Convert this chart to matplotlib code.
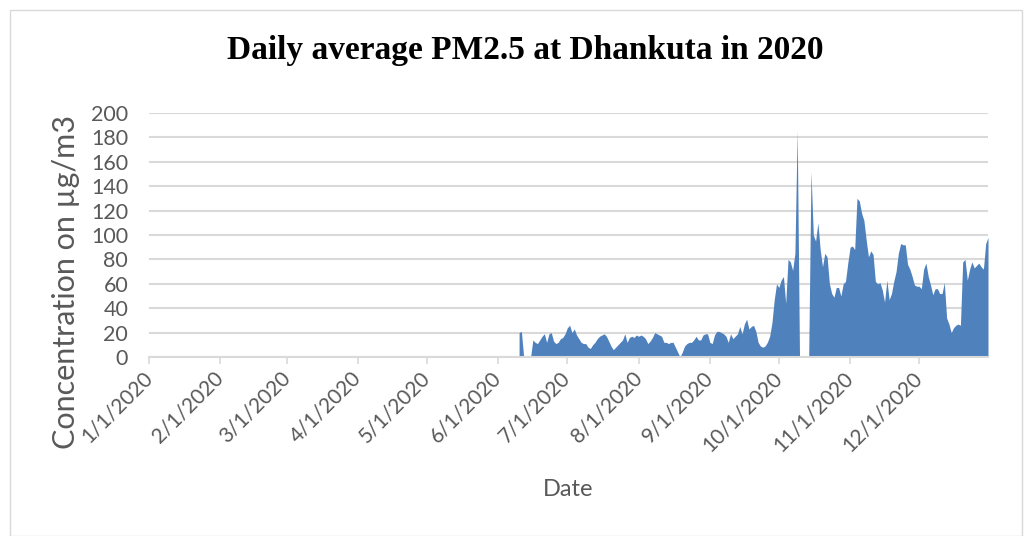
import datetime as dt
import matplotlib
matplotlib.use("Agg")
import matplotlib.pyplot as plt
from matplotlib.patches import Rectangle

# daily PM2.5 (ug/m3), None = no reading; first reading on 6/10/2020
start_date = dt.date(2020, 6, 10)
june = [20, 21, None, None, None, None, 14, 12, 11, 14, 17, 19, 12, 19, 20,
        13, 11, 12, 15, 16, 19]
july = [24, 26, 20, 23, 18, 15, 12, 11, 11, 8, 7, 10, 12, 15, 17, 18, 19, 17,
        13, 9, 6, 8, 10, 12, 14, 19, 12, 16, 17, 16, 18]
august = [17, 18, 17, 15, 11, 13, 16, 20, 19, 18, 17, 12, 12, 11, 12, 12, 8,
          4, None, 4, 9, 11, 12, 12, 14, 17, 14, 14, 18, 19, 19]
september = [12, 11, 18, 21, 21, 20, 19, 17, 12, 19, 15, 17, 19, 25, 19, 27,
             31, 23, 25, 26, 21, 12, 9, 8, 9, 12, 17, 28, 47, 60]
october = [57, 63, 66, 44, 80, 78, 71, 85, 186, None, None, None, None, None,
           152, 100, 95, 110, 88, 74, 85, 82, 60, 52, 49, 57, 57, 50, 60, 62, 77]
november = [90, 91, 88, 130, 128, 118, 112, 96, 82, 87, 84, 62, 60, 61, 55,
            45, 63, 47, 52, 62, 70, 85, 93, 92, 92, 76, 72, 66, 59, 58]
december = [58, 56, 72, 77, 66, 59, 51, 56, 56, 52, 52, 61, 32, 27, 20, 24,
            26, 27, 26, 78, 80, 63, 72, 78, 73, 75, 77, 74, 72, 93, 98]

title = "Daily average PM2.5 at Dhankuta in 2020"
y_label = "Concentration on µg/m3"
x_label = "Date"
y_ticks = [0, 20, 40, 60, 80, 100, 120, 140, 160, 180, 200]

blue = "#4f81bd"
grey_text = "#595959"
grid_col = "#d9d9d9"

values = june + july + august + september + october + november + december
dates = [start_date + dt.timedelta(days=i) for i in range(len(values))]
# Excel area chart draws blank cells as zero
plot_vals = [0 if v is None else v for v in values]

fig = plt.figure(figsize=(10.29, 5.36), dpi=100)
fig.patches.append(Rectangle((10 / 1029, 0), 1012 / 1029, 526 / 536,
                             transform=fig.transFigure, fill=False,
                             edgecolor=grid_col, linewidth=1))

ax = fig.add_axes([149 / 1029, 1 - 357 / 536, (988 - 149) / 1029, (357 - 113) / 536])
ax.fill_between(dates, plot_vals, 0, color=blue, linewidth=0)

ax.set_xlim(dt.date(2020, 1, 1), dt.date(2020, 12, 31))
ax.set_ylim(0, 200)
ax.set_yticks(y_ticks)
ax.yaxis.grid(True, color=grid_col, linewidth=1.5)
ax.set_axisbelow(True)

month_starts = [dt.date(2020, m, 1) for m in range(1, 13)]
ax.set_xticks(month_starts)
ax.set_xticklabels([f"{d.month}/{d.day}/{d.year}" for d in month_starts],
                   rotation=45, ha="right", va="center", rotation_mode="anchor")

for s in ["top", "right", "left"]:
    ax.spines[s].set_visible(False)
ax.spines["bottom"].set_color(grid_col)
ax.spines["bottom"].set_linewidth(1.5)
ax.tick_params(axis="y", length=0, pad=15, labelsize=15.5, labelcolor=grey_text)
ax.tick_params(axis="x", length=5, width=1.2, color=grid_col, pad=8,
               labelsize=15, labelcolor=grey_text)
for lab in ax.get_xticklabels() + ax.get_yticklabels():
    lab.set_family("Lato")

fig.text(0.5 * (224 + 826) / 1029, 1 - 50 / 536, title, ha="center", va="center",
         family="Liberation Serif", fontweight="bold", fontsize=24)
fig.text(66 / 1029, 1 - 282 / 536, y_label, rotation=90, ha="center", va="center",
         family="Lato", fontsize=22, color=grey_text)
fig.text(568 / 1029, 1 - 490 / 536, x_label, ha="center", va="center",
         family="Lato", fontsize=17, color=grey_text)

fig.savefig("out.png", dpi=100)
